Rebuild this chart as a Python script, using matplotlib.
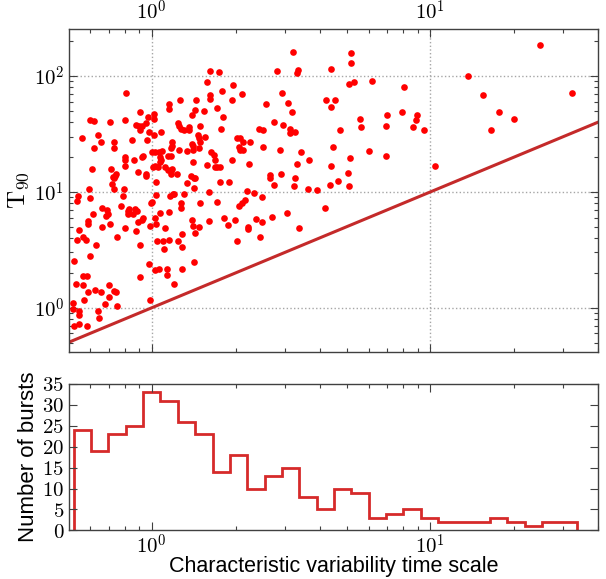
import numpy as np
import matplotlib.pyplot as plt
from matplotlib.ticker import LogLocator, NullFormatter

plt.rcParams['mathtext.fontset'] = 'cm'
plt.rcParams['font.family'] = ['Liberation Sans', 'DejaVu Sans']

# characteristic variability time scale vs T90
tscale = [3.21, 1.62, 1.75, 1.58, 3.35, 3.32, 1.96, 2.81, 0.81, 1.62,
          1.62, 1.79, 2.11, 2.94, 1.15, 1.15, 1.26, 1.44, 1.43, 1.40,
          1.71, 1.94, 3.08, 3.19, 1.02, 1.02, 0.97, 0.91, 1.54, 1.80,
          2.57, 4.23, 4.55, 4.41, 4.75, 0.60, 0.62, 0.71, 0.80, 0.88,
          0.90, 0.91, 0.92, 0.95, 0.98, 1.02, 1.08, 1.24, 1.25, 1.27,
          1.36, 1.36, 1.49, 1.47, 1.30, 1.55, 1.77, 2.75, 2.96, 2.43,
          2.51, 3.13, 3.14, 3.28, 0.56, 0.64, 0.66, 0.62, 0.73, 0.73,
          0.85, 0.96, 1.18, 1.17, 1.18, 1.25, 1.40, 1.41, 1.41, 1.49,
          1.48, 1.48, 2.02, 2.07, 2.06, 2.07, 2.13, 2.13, 2.26, 2.50,
          2.88, 3.42, 4.49, 1.00, 1.03, 1.06, 1.09, 1.14, 1.17, 0.93,
          0.92, 0.80, 0.80, 0.86, 0.80, 1.07, 1.08, 1.07, 1.03, 1.05,
          1.01, 1.12, 1.18, 1.34, 1.63, 1.67, 1.68, 1.72, 1.76, 1.69,
          1.58, 1.41, 1.94, 2.23, 3.68, 3.33, 0.61, 0.715, 0.745, 0.74,
          0.725, 0.73, 0.89, 0.95, 0.95, 1.145, 1.17, 1.17, 1.23, 1.38,
          1.42, 1.43, 1.04, 1.34, 1.76, 1.90, 2.66, 2.65, 2.90, 2.75,
          3.26, 3.25, 3.63, 3.92, 4.39, 4.38, 4.66, 0.72, 0.73, 0.795,
          0.595, 0.60, 0.545, 0.54, 1.42, 2.20, 1.60, 0.79, 0.99, 1.00,
          1.04, 1.16, 1.19, 1.20, 1.30, 1.27, 1.27, 1.49, 1.71, 2.06,
          2.10, 2.16, 2.33, 2.49, 0.665, 0.69, 0.695, 0.685, 0.775, 0.83,
          0.825, 0.825, 0.87, 0.885, 0.855, 0.93, 0.92, 1.07, 1.15, 1.39,
          1.60, 1.82, 1.88, 1.99, 2.22, 2.22, 2.36, 2.44, 2.49, 2.71,
          3.07, 3.37, 4.18, 0.615, 0.59, 0.59, 0.71, 0.75, 0.665, 0.80,
          0.88, 0.985, 1.03, 1.04, 1.12, 0.89, 0.55, 0.565, 0.58, 0.54,
          0.63, 0.905, 1.045, 1.10, 1.11, 1.28, 1.28, 1.24, 1.15, 1.43,
          1.41, 1.48, 2.03, 0.60, 0.525, 0.98, 1.03, 1.06, 1.13, 1.13,
          1.28, 1.42, 0.905, 1.20, 0.535, 0.565, 0.585, 0.565, 0.705, 0.625,
          0.66, 0.735, 0.745, 0.59, 0.57, 0.705, 0.52, 0.52, 0.68, 0.75,
          0.985, 0.55, 0.55, 0.64, 0.645, 0.55, 0.525, 0.585,
          5.18, 5.20, 4.41, 5.09, 5.32, 6.19, 8.02, 5.58, 5.63, 7.01,
          6.95, 7.94, 8.98, 8.91, 8.65, 9.51, 6.04, 6.93, 5.13, 5.07,
          5.09, 10.4, 13.7, 24.7, 15.4, 17.7, 20.0, 16.5, 32.2]
t90 = [161, 111, 109, 89, 113, 107, 83, 111, 71, 69,
       64, 75, 70, 72, 57, 52, 62, 62, 51, 46,
       53, 62, 59, 49, 47, 43, 44, 49, 50, 44,
       57, 62, 62, 54, 34, 42, 41, 40, 42, 38,
       37, 34, 37, 39, 33, 31, 33, 39, 37, 35,
       36, 34, 37, 31, 34, 30, 35, 40, 38, 35,
       34, 35, 32, 33, 29, 31, 27, 24, 27, 24,
       28, 28, 27, 24, 25, 23, 26, 23, 25, 27,
       24, 29, 29, 29, 24.5, 23, 23, 27, 27, 24.5,
       23, 22, 24.5, 22, 22, 22, 22.5, 20.5, 20.5, 20.5,
       20, 20, 18.7, 19, 16.8, 20, 18.8, 18, 16.6, 16.5,
       16.5, 16.3, 15.8, 22.5, 22, 21, 19, 16.5, 16.5, 16.4,
       17, 18, 19, 17.4, 18.7, 17.3, 15.7, 15.8, 14.2, 13.7,
       13.5, 13.3, 14.8, 14.2, 13.7, 15.5, 15.2, 14.4, 14.2, 13.8,
       13.1, 13.3, 12.2, 12.0, 12.1, 12.1, 13.1, 13.9, 14.2, 11.4,
       13.2, 11.3, 10.5, 10.4, 16.8, 11.4, 12.5, 11.6, 10.7, 10.7,
       10.7, 8.8, 9.2, 8.3, 10.8, 10.1, 9.9, 9.3, 8.1, 8.2,
       9.4, 9.2, 9.5, 9.5, 9.6, 8.1, 7.2, 8.1, 8.2, 7.6,
       8.0, 8.5, 9.7, 9.1, 7.2, 7.0, 6.5, 6.2, 7.6, 7.1,
       6.8, 6.4, 7.1, 6.9, 6.4, 6.0, 5.7, 6.6, 6.75, 5.7,
       5.6, 6.0, 5.2, 5.7, 5.0, 4.8, 5.85, 4.05, 5.55, 6.05,
       6.55, 4.9, 7.25, 6.4, 5.6, 5.25, 5.25, 4.1, 4.97, 4.85,
       4.6, 5.1, 5.95, 5.3, 4.9, 5.5, 4.65, 4.1, 3.86, 3.84,
       3.45, 3.5, 3.74, 3.8, 3.2, 4.35, 3.36, 3.76, 3.84, 4.44,
       5.1, 5.0, 3.8, 2.8, 2.55, 2.4, 2.1, 2.14, 2.16, 1.9,
       2.18, 2.5, 1.86, 1.6, 1.6, 1.88, 1.88, 1.56, 1.57, 1.41,
       1.37, 1.40, 1.38, 1.37, 1.16, 1.24, 1.10, 0.97, 1.07, 1.03,
       1.17, 0.94, 0.86, 0.94, 0.81, 0.72, 0.69, 0.69,
       159, 129, 116, 85, 89, 90, 81, 42.5, 36, 46,
       37, 49, 46, 42, 36, 34, 22.5, 20.5, 19.6, 14.7,
       11.2, 16.6, 100, 186, 69, 49, 43, 34, 72]

# histogram of the time scale (log bins)
hist_counts = [24, 19, 23, 25, 33, 31, 26, 23, 14, 18,
               10, 13, 15, 8, 5, 10, 9, 3, 4, 5,
               3, 2, 2, 2, 3, 2, 1, 2, 2]
hist_lo, hist_hi = 0.525, 33.5
hist_edges = np.logspace(np.log10(hist_lo), np.log10(hist_hi), len(hist_counts) + 1)

xlims = (0.505, 40)


def style_axes(ax):
    for s in ax.spines.values():
        s.set_color('0.25')
        s.set_linewidth(1.0)
    ax.tick_params(which='both', direction='in', top=True, right=True,
                   color='0.25', labelsize=15)
    ax.tick_params(which='major', length=5.5, width=0.8)
    ax.tick_params(which='minor', length=2.8, width=0.8)


fig = plt.figure(figsize=(6.06, 5.79), dpi=100)

# --- scatter ---
ax1 = fig.add_axes([0.114, 0.392, 0.873, 0.558])
ax1.set_xscale('log')
ax1.set_yscale('log')
ax1.plot(tscale, t90, 'o', color='red', ms=4.8, mew=0, zorder=3)
ax1.axline((1, 1), (10, 10), color='#c42a2a', lw=2.2, zorder=2)
ax1.set_xlim(*xlims)
ax1.set_ylim(0.415, 255)
ax1.set_xticks([1, 10])
ax1.set_xticklabels([r'$10^0$', r'$10^1$'])
ax1.set_yticks([1, 10, 100])
ax1.set_yticklabels([r'$10^0$', r'$10^1$', r'$10^2$'])
ax1.xaxis.set_minor_locator(LogLocator(subs=np.arange(2, 10)))
ax1.yaxis.set_minor_locator(LogLocator(subs=np.arange(2, 10)))
ax1.xaxis.set_minor_formatter(NullFormatter())
ax1.yaxis.set_minor_formatter(NullFormatter())
ax1.grid(True, which='major', color='0.65', ls=':', lw=1.0)
style_axes(ax1)
ax1.tick_params(labeltop=True, labelbottom=False)
ax1.set_ylabel(r'$\mathrm{T}_{90}$', fontsize=18, labelpad=2)

# --- histogram ---
ax2 = fig.add_axes([0.114, 0.084, 0.873, 0.253])
ax2.set_xscale('log')
ax2.stairs(hist_counts, hist_edges, color='#d62a2a', lw=2.0)
ax2.set_xlim(*xlims)
ax2.set_ylim(0, 35)
ax2.set_xticks([1, 10])
ax2.set_xticklabels([r'$10^0$', r'$10^1$'])
ax2.xaxis.set_minor_locator(LogLocator(subs=np.arange(2, 10)))
ax2.xaxis.set_minor_formatter(NullFormatter())
yt = list(range(0, 36, 5))
ax2.set_yticks(yt)
ax2.set_yticklabels([r'$%d$' % v for v in yt])
style_axes(ax2)
ax2.tick_params(axis='x', which='major', pad=2)
ax2.set_ylabel('Number of bursts', fontsize=16, labelpad=2)
ax2.set_xlabel('Characteristic variability time scale', fontsize=15.5, labelpad=-1)

fig.savefig('out.png', dpi=100)
